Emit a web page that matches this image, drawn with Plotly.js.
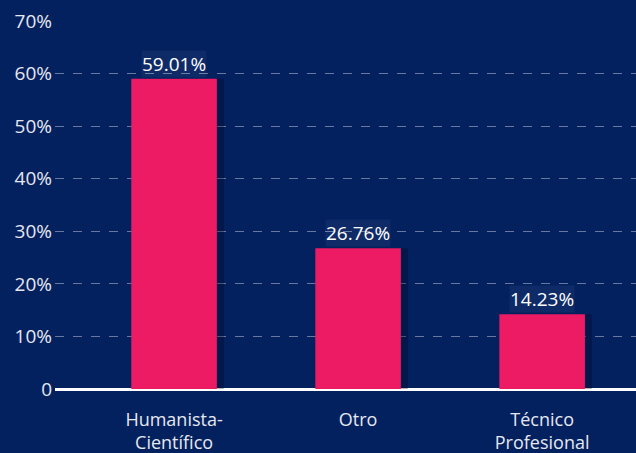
<!DOCTYPE html>
<html><head><meta charset="utf-8">
<script src="https://cdn.plot.ly/plotly-3.0.1.min.js"></script>
<style>html,body{margin:0;padding:0;background:#03205f;}</style>
</head><body><div id="chart" style="width:636px;height:453px;"></div>
<script>
const categories = ["Humanista-<br>Científico", "Otro", "Técnico<br>Profesional"];
const values = [59.01, 26.76, 14.23];
const labels = ["59.01%", "26.76%", "14.23%"];
const yTicks = [0, 10, 20, 30, 40, 50, 60, 70];
const yTickText = ["0", "10%", "20%", "30%", "40%", "50%", "60%", "70%"];

const FONT = '"Open Sans", sans-serif';
const xIdx = categories.map((c, i) => i);
const shadow = {
  type: 'bar', x: xIdx, y: values, width: 0.47, offset: -0.235 + 0.035,
  marker: {color: 'rgba(0,5,30,0.3)'}, hoverinfo: 'skip', showlegend: false
};
const bars = {
  type: 'bar', x: xIdx, y: values, width: 0.465, offset: -0.2325,
  marker: {color: '#ed1b63'}, showlegend: false
};
const annotations = values.map((v, i) => ({
  x: i, y: v, xref: 'x', yref: 'y', text: labels[i], showarrow: false,
  yanchor: 'bottom', yshift: 1, bgcolor: 'rgba(255,255,255,0.05)', borderpad: 0,
  font: {family: FONT, size: 19, color: '#ffffff'}
}));
const layout = {
  width: 636, height: 453,
  margin: {l: 55, r: 0, t: 21, b: 64},
  paper_bgcolor: '#03205f', plot_bgcolor: '#03205f',
  barmode: 'overlay',
  xaxis: {
    range: [-0.647, 2.51], tickvals: xIdx, ticktext: categories,
    showgrid: false, zeroline: false, showline: false, ticks: '',
    ticklabelstandoff: 18,
    tickfont: {family: FONT, size: 18, color: '#e6e8f0'}
  },
  yaxis: {
    range: [0, 70], tickvals: yTicks, ticktext: yTickText,
    showgrid: true, gridcolor: 'rgba(170,180,205,0.6)', griddash: 'dash', gridwidth: 1,
    zeroline: true, zerolinecolor: '#ffffff', zerolinewidth: 3,
    ticks: '', ticklabelstandoff: 2,
    tickfont: {family: FONT, size: 19, color: '#e6e8f0'}
  },
  annotations: annotations
};
Plotly.newPlot('chart', [shadow, bars], layout, {displayModeBar: false, staticPlot: true});
</script></body></html>
